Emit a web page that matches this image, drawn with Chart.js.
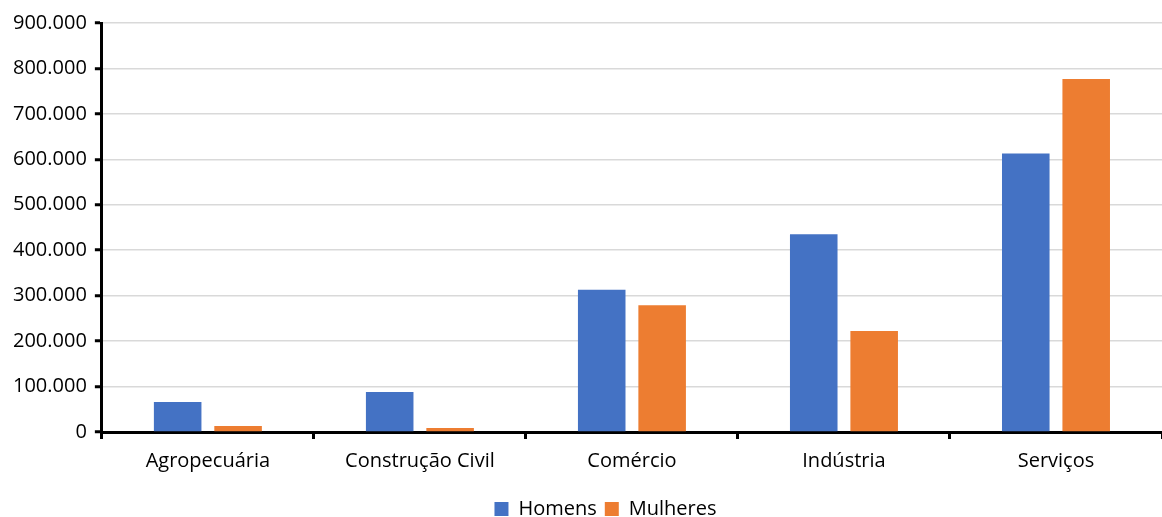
<!DOCTYPE html>
<html>
<head>
<meta charset="utf-8">
<script src="https://cdn.jsdelivr.net/npm/chart.js@4"></script>
<style>
  html, body { margin: 0; padding: 0; background: #ffffff; }
  #wrap { width: 1162px; height: 517px; }
</style>
</head>
<body>
<div id="wrap"><canvas id="c" width="1162" height="517"></canvas></div>
<script>
// Employment by sector and sex
const categories = ['Agropecuária', 'Construção Civil', 'Comércio', 'Indústria', 'Serviços'];
const homens = [66000, 88000, 313000, 435000, 613000];
const mulheres = [13000, 9000, 279000, 222000, 777000];
const yTicks = [0, 100000, 200000, 300000, 400000, 500000, 600000, 700000, 800000, 900000];

function fmt(v) {
  return String(v).replace(/\B(?=(\d{3})+(?!\d))/g, '.');
}

const FONT = '"Open Sans", "Noto Sans", sans-serif';
const FS = 20;

// nudge the bottom legend to the right of the canvas centre
const legendShift = {
  id: 'legendShift',
  afterLayout(chart) {
    const lg = chart.legend;
    if (lg) { lg.left += 22; lg.right += 22; }
  }
};

new Chart(document.getElementById('c'), {
  type: 'bar',
  data: {
    labels: categories,
    datasets: [
      { label: 'Homens', data: homens, backgroundColor: '#4472c4', categoryPercentage: 0.57, barPercentage: 0.787 },
      { label: 'Mulheres', data: mulheres, backgroundColor: '#ed7d31', categoryPercentage: 0.57, barPercentage: 0.787 }
    ]
  },
  plugins: [legendShift],
  options: {
    responsive: false,
    animation: false,
    layout: { padding: { top: 23, right: 0, left: 5, bottom: -12 } },
    plugins: {
      legend: {
        position: 'bottom',
        labels: {
          font: { family: FONT, size: FS },
          color: '#000',
          boxWidth: 14,
          boxHeight: 14,
          padding: 8
        }
      },
      tooltip: { enabled: false }
    },
    scales: {
      x: {
        afterFit: scale => { scale.height += 8; },
        grid: {
          offset: true,
          drawOnChartArea: false,
          drawTicks: true,
          tickLength: 7,
          tickWidth: 3,
          tickColor: '#000'
        },
        border: { color: '#000', width: 3 },
        ticks: {
          font: { family: FONT, size: FS },
          color: '#000',
          padding: 10
        }
      },
      y: {
        min: 0,
        max: 900000,
        afterBuildTicks: axis => { axis.ticks = yTicks.map(v => ({ value: v })); },
        grid: {
          color: '#d9d9d9',
          lineWidth: 1.5,
          drawTicks: true,
          tickLength: 7,
          tickColor: '#000',
          tickWidth: 3
        },
        border: { color: '#000', width: 3 },
        ticks: {
          font: { family: FONT, size: FS },
          color: '#000',
          padding: 8,
          callback: v => fmt(v)
        }
      }
    }
  }
});
</script>
</body>
</html>
